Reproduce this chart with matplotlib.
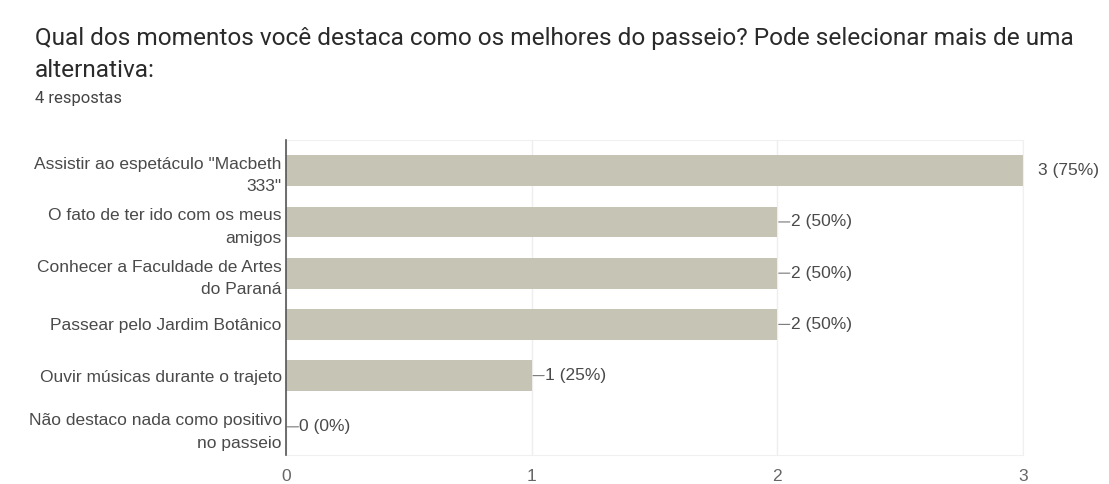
import matplotlib.pyplot as plt

categories = [
    'Assistir ao espetáculo "Macbeth\n333"',
    'O fato de ter ido com os meus\namigos',
    'Conhecer a Faculdade de Artes\ndo Paraná',
    'Passear pelo Jardim Botânico',
    'Ouvir músicas durante o trajeto',
    'Não destaco nada como positivo\nno passeio',
]
counts = [3, 2, 2, 2, 1, 0]
total = 4
xticks = [0, 1, 2, 3]

title = "Qual dos momentos você destaca como os melhores do passeio? Pode selecionar mais de uma\nalternativa:"
subtitle = "4 respostas"

bar_color = '#c6c4b5'
label_color = '#4a4a4a'
fs = 12.5

fig = plt.figure(figsize=(11.09, 4.84), dpi=100)
ax = fig.add_axes([286 / 1109, 29 / 484, 737 / 1109, 315 / 484])

ypos = list(range(len(categories)))
ax.barh(ypos, counts, height=0.6, color=bar_color, zorder=2)
ax.set_ylim(len(categories) - 0.45, -0.6)
ax.set_xlim(0, 3)

ax.set_yticks(ypos)
ax.set_yticklabels(categories, fontsize=fs, color=label_color,
                   family='Liberation Sans', linespacing=1.6)
ax.tick_params(axis='y', length=0, pad=3)
ax.set_xticks(xticks)
ax.set_xticklabels([str(t) for t in xticks], fontsize=fs, color='#666666',
                   family='Liberation Sans')
ax.tick_params(axis='x', length=0, pad=10)

ax.grid(axis='x', color='#eeeeee', linewidth=1, zorder=0)
for s in ['top', 'right', 'bottom']:
    ax.spines[s].set_color('#f0f0f0')
ax.spines['left'].set_color('#555555')
ax.spines['left'].set_linewidth(1.2)
ax.spines['left'].set_zorder(3)

# value labels with short leader lines
for y, c in zip(ypos, counts):
    txt = f"{c} ({round(100 * c / total)}%)"
    if c == max(counts):
        ax.annotate(txt, (c, y), xytext=(11, 0), textcoords='offset points',
                    va='center', ha='left', fontsize=fs, color=label_color,
                    family='Liberation Sans', annotation_clip=False)
    else:
        ax.annotate('', (c, y), xytext=(9, 0), textcoords='offset points',
                    arrowprops=dict(arrowstyle='-', color='#777777', lw=0.8,
                                    shrinkA=0, shrinkB=1))
        ax.annotate(txt, (c, y), xytext=(9.5, 0), textcoords='offset points',
                    va='center', ha='left', fontsize=fs, color=label_color,
                    family='Liberation Sans')

fig.text(35 / 1109, 1 - 27 / 484, title, fontsize=17.6, color='#2a2a2a',
         family='Roboto', va='top', ha='left', linespacing=1.5)
fig.text(35 / 1109, 1 - 91 / 484, subtitle, fontsize=12, color='#444444',
         family='Roboto', va='top', ha='left')

fig.savefig('out.png', dpi=100, facecolor='white')
